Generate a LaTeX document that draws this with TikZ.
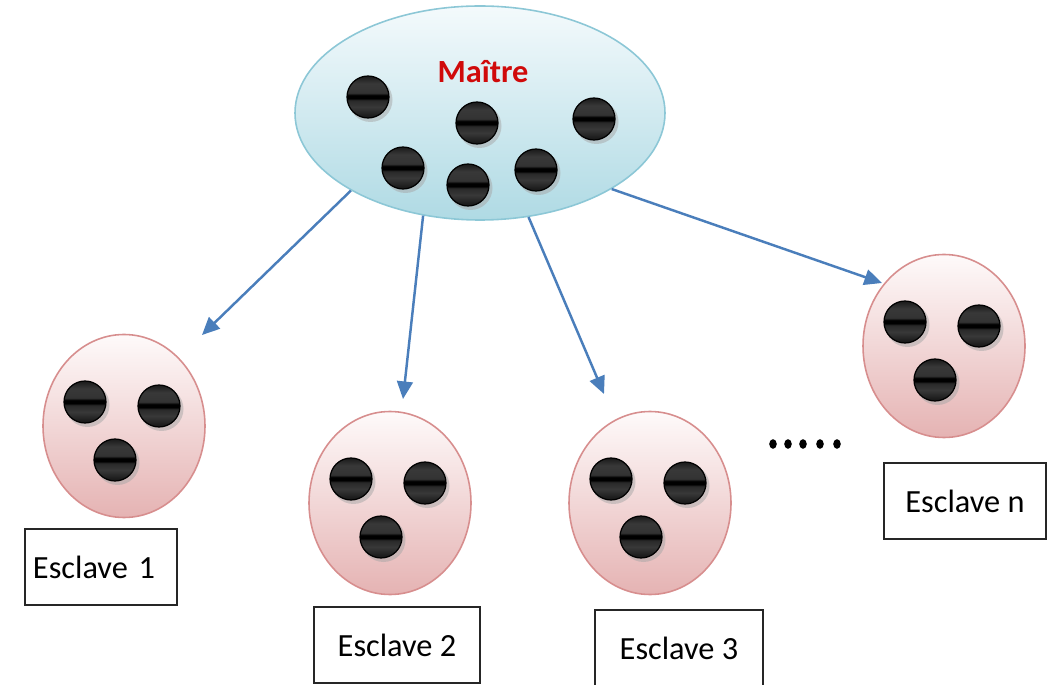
\documentclass[tikz,border=0pt]{standalone}
\usepackage{fontspec}
\setsansfont{Carlito}
\usetikzlibrary{positioning, calc, arrows.meta, shapes.geometric}

% glossy black token: dark body, thin black stripe across the middle
\pgfdeclareverticalshading{ballshade}{100bp}{%
  color(0bp)=(black!92); color(25bp)=(black!92); color(38bp)=(black!78);
  color(46bp)=(black!84); color(48.5bp)=(black); color(52bp)=(black);
  color(55bp)=(black!80); color(66bp)=(black!78); color(75bp)=(black!90);
  color(100bp)=(black!90)}

\begin{document}
\begin{tikzpicture}[
  font=\sffamily\fontsize{9.2}{11}\selectfont,
  >={Triangle[length=5pt,width=4.5pt]},
]
\definecolor{masterTop}{HTML}{F4FAFC}
\definecolor{masterBot}{HTML}{AFDAE4}
\definecolor{masterEdge}{HTML}{8CC7D6}
\definecolor{slaveTop}{HTML}{FEFAFA}
\definecolor{slaveBot}{HTML}{E5B3B3}
\definecolor{slaveEdge}{HTML}{D78E8E}
\definecolor{linkBlue}{HTML}{4A7EBB}
\definecolor{maitreRed}{HTML}{D00A0A}

\tikzset{
  slave/.style={ellipse, draw=slaveEdge, line width=0.45pt,
    top color=slaveTop, bottom color=slaveBot,
    minimum width=1.62cm, minimum height=1.83cm, inner sep=0pt},
  tag/.style={draw=black!85, line width=0.6pt, fill=white,
    minimum height=0.76cm, inner sep=0pt},
  link/.style={->, draw=linkBlue, line width=0.7pt},
  token/.style={shading=ballshade, draw=black, line width=0.35pt},
}

% ---------------- frame ----------------
\useasboundingbox (0,0) rectangle (10.48,6.84);
\clip (0,0) rectangle (10.48,6.84);

% =====================================================================
% Master pool
% =====================================================================
\node[ellipse, draw=masterEdge, line width=0.45pt,
      top color=masterTop, bottom color=masterBot,
      minimum width=3.70cm, minimum height=2.14cm, inner sep=0pt]
  (master) at (4.80,5.71) {};
\node[font=\sffamily\bfseries\fontsize{9.2}{11}\selectfont, text=maitreRed]
  (title) at (4.83,6.12) {Maître};

\pgfmathsetmacro{\tokR}{0.21}
\foreach \bx/\by in {3.68/5.87, 4.77/5.61, 5.94/5.65,
                     4.03/5.16, 4.68/4.99, 5.36/5.14} {
  \fill[black!35, opacity=0.5] (\bx+0.025,\by-0.03) circle (\tokR+0.01);
  \shade[token] (\bx,\by) circle (\tokR);
}

% =====================================================================
% Slave pools, three tokens each
% =====================================================================
\node[slave] (s1) at (1.24,2.58) {};
\node[slave] (s2) at (3.90,1.81) {};
\node[slave] (s3) at (6.50,1.81) {};
\node[slave] (sn) at (9.44,3.38) {};

\foreach \s in {s1,s2,s3,sn} {
  \foreach \dx/\dy in {-0.39/0.24, 0.35/0.20, -0.09/-0.34} {
    \fill[black!35, opacity=0.5] ($(\s)+(\dx+0.025,\dy-0.03)$) circle (\tokR+0.01);
    \shade[token] ($(\s)+(\dx,\dy)$) circle (\tokR);
  }
}

% labels under the slaves
\node[tag, minimum width=1.52cm, text width=1.36cm, align=left]
  (t1) at (1.01,1.17) {Esclave 1};
\node[tag, minimum width=1.66cm] (t2) at (3.97,0.39) {Esclave 2};
\node[tag, minimum width=1.68cm] (t3) at (6.79,0.36) {Esclave 3};
\node[tag, minimum width=1.62cm] (tn) at (9.65,1.83) {Esclave n};

% ellipsis between slave 3 and slave n
\foreach \dxx in {7.73,7.88,8.03,8.20,8.37} {
  \fill[black] (\dxx,2.40) ellipse [x radius=0.038, y radius=0.048];
}

% =====================================================================
% Distribution arrows
% =====================================================================
\coordinate (tip1) at (2.02,3.49);
\coordinate (tip2) at (4.03,2.85);
\coordinate (tip3) at (6.04,2.90);
\coordinate (tipn) at (8.82,4.01);

\draw[link] (master.211) -- (tip1);
\draw[link] (master.241) -- (tip2);
\draw[link] (master.295) -- (tip3);
\draw[link] (master.330) -- (tipn);

\end{tikzpicture}
\end{document}
